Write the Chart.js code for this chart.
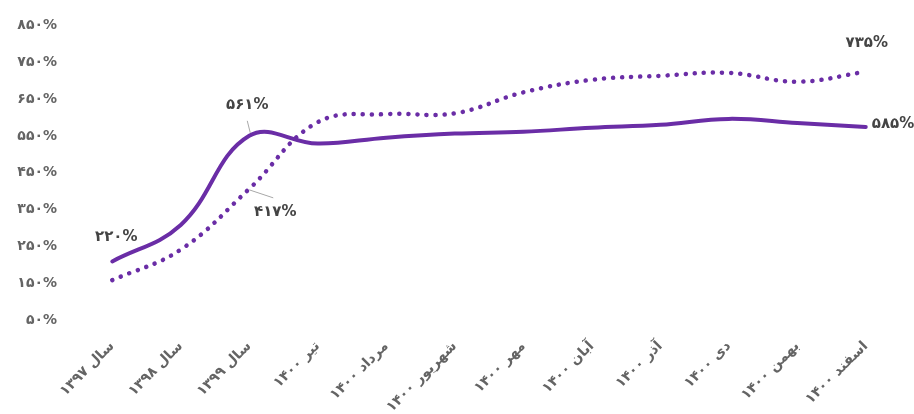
<!DOCTYPE html>
<html lang="fa">
  <head>
    <meta charset="UTF-8" />
    <title>روند رشد</title>
    <script src="https://cdn.jsdelivr.net/npm/chart.js"></script>
    <style>
      body { margin: 0; background: #fff; }
      #wrap { width: 914px; height: 414px; position: relative; }
    </style>
  </head>
  <body>
    <div id="wrap"><canvas id="growthChart"></canvas></div>
    <script>
      // categories (Persian months / years)
      const labels = [
        "سال ۱۳۹۷", "سال ۱۳۹۸", "سال ۱۳۹۹", "تیر ۱۴۰۰", "مرداد ۱۴۰۰", "شهریور ۱۴۰۰",
        "مهر ۱۴۰۰", "آبان ۱۴۰۰", "آذر ۱۴۰۰", "دی ۱۴۰۰", "بهمن ۱۴۰۰", "اسفند ۱۴۰۰"
      ];
      const solidValues = [220, 319, 561, 540, 556, 567, 572, 583, 591, 607, 596, 585];
      const dottedValues = [169, 252, 417, 598, 620, 622, 679, 713, 724, 732, 708, 735];
      const yTicks = [50, 150, 250, 350, 450, 550, 650, 750, 850];

      const purple = "#6a2da6";
      const faDigits = "۰۱۲۳۴۵۶۷۸۹";
      const fa = n => String(n).replace(/\d/g, d => faDigits[d]);

      // which points get a value label, and where it sits
      const pointLabels = [
        { ds: 0, i: 0, dx: 4, dy: -24 },
        { ds: 0, i: 2, dx: -2, dy: -31, lead: [1, -3, -2, -15] },
        { ds: 1, i: 2, dx: 26, dy: 23, lead: [0, 1, 24, 9] },
        { ds: 1, i: 11, dx: 1, dy: -29 },
        { ds: 0, i: 11, dx: 6, dy: -3, align: "left" }
      ];

      const valueLabels = {
        id: "valueLabels",
        afterDatasetsDraw(chart) {
          const ctx = chart.ctx;
          ctx.save();
          pointLabels.forEach(p => {
            const pt = chart.getDatasetMeta(p.ds).data[p.i];
            const v = chart.data.datasets[p.ds].data[p.i];
            if (p.lead) {
              ctx.strokeStyle = "#a8a8a8";
              ctx.lineWidth = 1;
              ctx.beginPath();
              ctx.moveTo(pt.x + p.lead[0], pt.y + p.lead[1]);
              ctx.lineTo(pt.x + p.lead[2], pt.y + p.lead[3]);
              ctx.stroke();
            }
            ctx.fillStyle = "#444";
            ctx.font = "bold 15px 'DejaVu Sans'";
            ctx.textAlign = p.align || "center";
            ctx.textBaseline = "middle";
            ctx.fillText(fa(v) + "%", pt.x + p.dx, pt.y + p.dy);
          });
          ctx.restore();
        }
      };

      new Chart(document.getElementById("growthChart"), {
        type: "line",
        data: {
          labels: labels,
          datasets: [
            {
              data: solidValues,
              borderColor: purple,
              borderWidth: 4,
              tension: 0.4,
              pointRadius: 0,
              borderCapStyle: "round"
            },
            {
              data: dottedValues,
              borderColor: purple,
              borderWidth: 4.5,
              tension: 0.4,
              pointRadius: 0,
              borderCapStyle: "round",
              borderDash: [0.1, 9]
            }
          ]
        },
        options: {
          responsive: true,
          maintainAspectRatio: false,
          animation: false,
          layout: { padding: { top: 24, right: 14, left: 0, bottom: 0 } },
          plugins: {
            legend: { display: false },
            tooltip: { enabled: false }
          },
          scales: {
            x: {
              offset: true,
              grid: { display: false, drawTicks: false },
              border: { display: false },
              afterFit: s => { s.height = 90; },
              ticks: {
                autoSkip: false,
                minRotation: 45,
                maxRotation: 45,
                padding: 14,
                color: "#646464",
                font: { family: "DejaVu Sans", size: 14, weight: "bold" }
              }
            },
            y: {
              min: 50,
              max: 850,
              grid: { display: false, drawTicks: false },
              border: { display: false },
              afterFit: s => { s.width = 78; },
              afterBuildTicks: s => { s.ticks = yTicks.map(v => ({ value: v })); },
              ticks: {
                padding: 21,
                labelOffset: -4,
                color: "#646464",
                font: { family: "DejaVu Sans", size: 14, weight: "bold" },
                callback: v => fa(v) + "%"
              }
            }
          }
        },
        plugins: [valueLabels]
      });
    </script>
  </body>
</html>
